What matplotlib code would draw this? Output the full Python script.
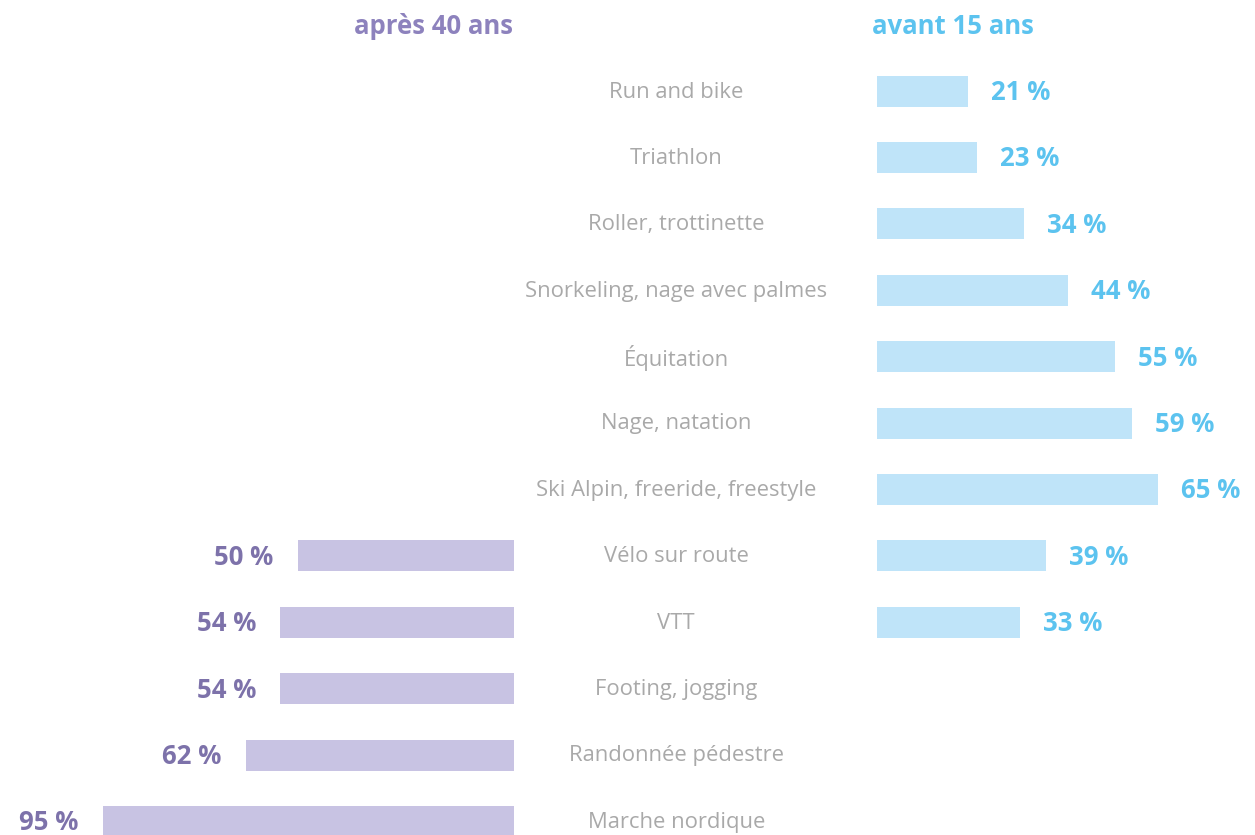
import numpy as np
import matplotlib.pyplot as plt

# Data
categories = ["Run and bike", "Triathlon", "Roller, trottinette",
              "Snorkeling, nage avec palmes", "Équitation", "Nage, natation",
              "Ski Alpin, freeride, freestyle", "Vélo sur route", "VTT",
              "Footing, jogging", "Randonnée pédestre", "Marche nordique"]
avant15 = [21, 23, 34, 44, 55, 59, 65, 39, 33, None, None, None]
apres40 = [None, None, None, None, None, None, None, 50, 54, 54, 62, 95]

# Colours
purple_bar = "#c8c3e3"
purple_txt = "#7d72aa"
blue_bar = "#bfe4f9"
blue_txt = "#5cc3ef"
grey_txt = "#a9a9a9"
font = "Open Sans"

W, H = 1255, 835
fig = plt.figure(figsize=(W / 100, H / 100), dpi=100)

# vertical layout: row centers in pixels ~ 91 + 66.4*i
pitch = 66.4
y0 = 91
ylim = ((H - y0) / pitch, -y0 / pitch)
px_per_pct = 4.33
bar_h = 31 / pitch
val_dy = 1.5 / pitch
lab_dy = 1 / pitch

# left axes (après 40 ans), right edge at pixel 514
axl = fig.add_axes([0, 0, 514 / W, 1])
axl.set_xlim(514 / px_per_pct, 0)
axl.set_ylim(*ylim)
axl.axis("off")

# right axes (avant 15 ans), left edge at pixel 877
axr = fig.add_axes([877 / W, 0, (W - 877) / W, 1])
axr.set_xlim(0, (W - 877) / px_per_pct)
axr.set_ylim(*ylim)
axr.axis("off")

# middle axes for category labels
axm = fig.add_axes([514 / W, 0, (877 - 514) / W, 1])
axm.set_xlim(0, 1)
axm.set_ylim(*ylim)
axm.axis("off")

y = np.arange(len(categories))

for i, v in enumerate(apres40):
    if v is None:
        continue
    axl.barh(y[i], v, height=bar_h, color=purple_bar)
    axl.text(v + 24 / px_per_pct, y[i] + val_dy, f"{v} %", ha="right", va="center",
             fontsize=18.5, fontweight="bold", color=purple_txt, family=font)

for i, v in enumerate(avant15):
    if v is None:
        continue
    axr.barh(y[i], v, height=bar_h, color=blue_bar)
    axr.text(v + 23 / px_per_pct, y[i] + val_dy, f"{v} %", ha="left", va="center",
             fontsize=18.5, fontweight="bold", color=blue_txt, family=font)

for i, c in enumerate(categories):
    axm.text(0.447, y[i] + lab_dy, c, ha="center", va="center", fontsize=15.8,
             color=grey_txt, family=font)

fig.text(433 / W, 1 - 26 / H, "après 40 ans", ha="center", va="center",
         fontsize=18.5, fontweight="bold", color="#8d82bd", family=font)
fig.text(953 / W, 1 - 26 / H, "avant 15 ans", ha="center", va="center",
         fontsize=18.5, fontweight="bold", color=blue_txt, family=font)

fig.savefig("out.png", dpi=100)
